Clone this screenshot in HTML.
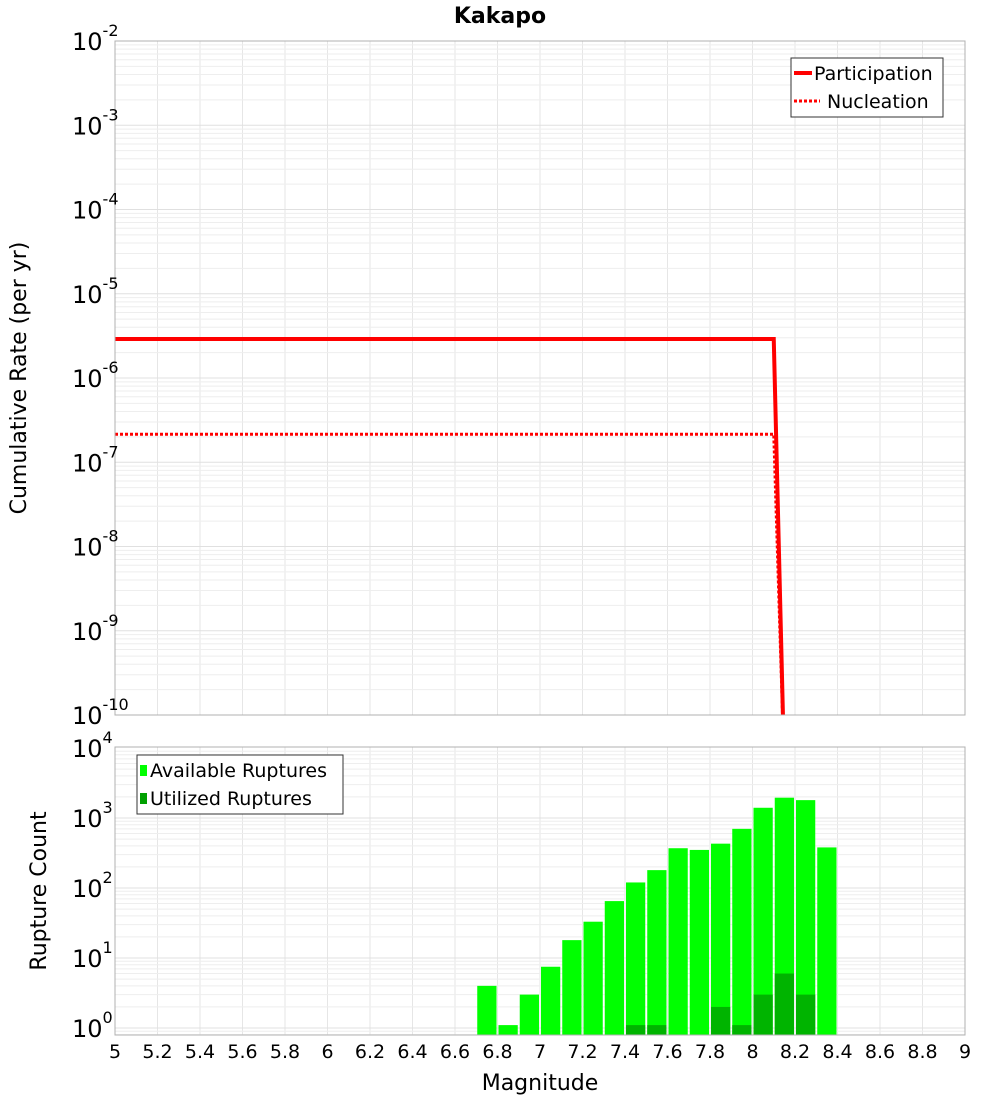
<!DOCTYPE html>
<html><head><meta charset="utf-8"><style>
body{margin:0;background:#fff;font-family:"DejaVu Sans","Liberation Sans",sans-serif}
</style></head><body>
<svg id="c" width="1000" height="1100" xmlns="http://www.w3.org/2000/svg" font-family="DejaVu Sans, Liberation Sans, sans-serif"></svg>
<script>
const xTicks=[5,5.2,5.4,5.6,5.8,6,6.2,6.4,6.6,6.8,7,7.2,7.4,7.6,7.8,8,8.2,8.4,8.6,8.8,9];
const partM=[5,8.1,8.15];
const partV=[2.9e-6,2.9e-6,2e-11];
const nuclM=[5,8.1,8.15];
const nuclV=[2.15e-7,2.15e-7,2e-11];
const binM=[6.75,6.85,6.95,7.05,7.15,7.25,7.35,7.45,7.55,7.65,7.75,7.85,7.95,8.05,8.15,8.25,8.35];
const availCounts=[4,1.1,3,7.5,18,33,65,120,180,370,350,430,700,1400,1950,1800,380];
const usedCounts=[0,0,0,0,0,0,0,1.1,1.1,0,0,2,1.1,3,6,3,0];
const svg=document.getElementById('c');const NS='http://www.w3.org/2000/svg';
function el(t,a,p){const e=document.createElementNS(NS,t);for(const k in a)e.setAttribute(k,a[k]);(p||svg).appendChild(e);return e;}
const X0=115,X1=965;
const xs=m=>X0+(m-5)/4*(X1-X0);
const T0=41,T1=715; const ysT=v=>T0+(-2-Math.log10(v))/8*(T1-T0);
const B0=747,B1=1035; const ysB=v=>1028-Math.log10(v)*70;
el('text',{x:500,y:23,'text-anchor':'middle','font-size':22,'font-weight':'bold',}).textContent='Kakapo';
function grid(top,bot,minE,maxE,ys,name){
 const g=el('g',{});
 for(const t of xTicks)el('line',{x1:xs(t),x2:xs(t),y1:top,y2:bot,stroke:'#e6e6e6'},g);
 for(let e=minE;e<maxE;e++)for(let k=1;k<10;k++){const y=ys(k*Math.pow(10,e));if(y<top-0.5||y>bot+0.5)continue;el('line',{x1:X0,x2:X1,y1:y,y2:y,stroke:k==1?'#e0e0e0':'#eeeeee'},g);}
}
grid(T0,T1,-10,-2,ysT,'top');
const ysTop=ysT(1e-2);el('line',{x1:X0,x2:X1,y1:ysTop,y2:ysTop,stroke:'#e0e0e0'});
grid(B0,B1,-1,4,ysB,'bottom');
// top lines
const cp=el('clipPath',{id:'cpT'});el('rect',{x:X0,y:T0,width:X1-X0,height:T1-T0},cp);
let d='';partM.forEach((m,i)=>d+=(i?'L':'M')+xs(m)+','+ysT(partV[i]));
el('path',{d,fill:'none',stroke:'#ff0000','stroke-width':4,'clip-path':'url(#cpT)',});
d='';nuclM.forEach((m,i)=>d+=(i?'L':'M')+xs(m)+','+ysT(nuclV[i]));
el('path',{d,fill:'none',stroke:'#ff0000','stroke-width':3,'stroke-dasharray':'3,2','clip-path':'url(#cpT)',});
el('rect',{x:X0,y:T0,width:X1-X0,height:T1-T0,fill:'none',stroke:'#b0b0b0',});
// bars
const w=(xs(5.1)-xs(5))-2;
binM.forEach((m,i)=>{const y=ysB(availCounts[i]);const r=el('rect',{x:xs(m)-w/2,y:y,width:w,height:B1-y,fill:'#00ff00'});
 if(usedCounts[i]>0){const y2=ysB(usedCounts[i]);const r2=el('rect',{x:xs(m)-w/2,y:y2,width:w,height:B1-y2,fill:'#00b400'});}});
el('rect',{x:X0,y:B0,width:X1-X0,height:B1-B0,fill:'none',stroke:'#b0b0b0',});
// y tick labels
function ylab(y,e,name){const t=el('text',{x:72,y:y+9,'font-size':24,});t.textContent='10';const s=el('tspan',{dy:-14,'font-size':16},t);s.textContent=e;}
for(let e=-2;e>=-10;e--)ylab(ysT(Math.pow(10,e)),String(e),'top-y-tick');
for(let e=0;e<=4;e++)ylab(ysB(Math.pow(10,e)),String(e),'bottom-y-tick');
xTicks.forEach(t=>{const e=el('text',{x:xs(t),y:1058,'text-anchor':'middle','font-size':19});e.textContent=String(t);});
el('text',{x:540,y:1090,'text-anchor':'middle','font-size':22,}).textContent='Magnitude';
el('text',{x:0,y:0,transform:'translate(26,378) rotate(-90)','text-anchor':'middle','font-size':22,}).textContent='Cumulative Rate (per yr)';
el('text',{x:0,y:0,transform:'translate(46,891) rotate(-90)','text-anchor':'middle','font-size':22,}).textContent='Rupture Count';
// legends
const l1=el('g',{});
el('rect',{x:791,y:58,width:152,height:59,fill:'#fff',stroke:'#333'},l1);
el('line',{x1:794,x2:812,y1:73,y2:73,stroke:'#f00','stroke-width':4},l1);
el('text',{x:814,y:80,'font-size':19},l1).textContent='Participation';
el('line',{x1:794,x2:820,y1:101,y2:101,stroke:'#f00','stroke-width':3,'stroke-dasharray':'3,2'},l1);
el('text',{x:827,y:108,'font-size':19},l1).textContent='Nucleation';
const l2=el('g',{});
el('rect',{x:137,y:755,width:206,height:59,fill:'#fff',stroke:'#333'},l2);
el('rect',{x:140,y:765,width:7,height:11,fill:'#00ff00'},l2);
el('text',{x:150,y:777,'font-size':19},l2).textContent='Available Ruptures';
el('rect',{x:140,y:793,width:7,height:11,fill:'#00a000'},l2);
el('text',{x:150,y:805,'font-size':19},l2).textContent='Utilized Ruptures';
</script>
</body></html>
